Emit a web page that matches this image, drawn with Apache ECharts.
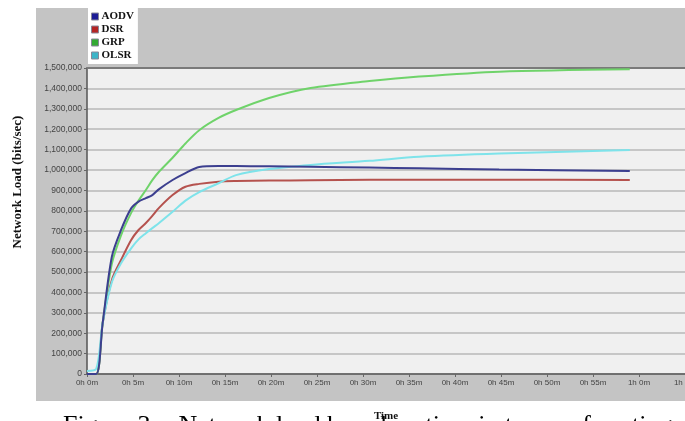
<!DOCTYPE html>
<html>
<head>
<meta charset="utf-8">
<script src="https://cdn.jsdelivr.net/npm/echarts@6/dist/echarts.min.js"></script>
<style>
  html, body { margin: 0; padding: 0; background: #fff; }
  #chart { width: 685px; height: 421px; }
</style>
</head>
<body>
<div id="chart"></div>
<script>
// sample times in minutes
const times = [0, 1, 1.7, 2.7, 3.7, 4.8, 5.6, 6.4, 7.1, 7.8, 9.3, 10.7, 12.2, 14.3, 16.2, 19.8, 24.3, 30.7, 36.1, 44.8, 59]

const aodv = [0, 0, 248000, 575000, 706000, 812000, 845000, 862000, 877000, 905000, 951000, 985000, 1015000, 1020000, 1020000, 1018000, 1016000, 1012000, 1008000, 1002000, 995000]
const dsr = [0, 0, 248000, 461000, 559000, 657000, 706000, 740000, 775000, 813000, 877000, 918000, 932000, 943000, 946000, 948000, 950000, 952000, 952000, 952000, 951000]
const grp = [0, 0, 250000, 540000, 680000, 790000, 850000, 902000, 950000, 990000, 1060000, 1130000, 1195000, 1255000, 1294000, 1353000, 1402000, 1436000, 1458000, 1482000, 1494000]
const olsr = [15000, 25000, 248000, 450000, 543000, 616000, 660000, 690000, 715000, 739000, 795000, 850000, 892000, 935000, 975000, 1005000, 1025000, 1045000, 1065000, 1081000, 1098000]

const seriesNames = ['AODV', 'DSR', 'GRP', 'OLSR']
const lineColors = ['#3c3f8f', '#b5524e', '#6fd36a', '#7ee3ea']
const boxColors = ['#1c1c96', '#b42424', '#33aa33', '#3cb4c8']

function pairs(vals) {
  return vals.map((v, i) => [times[i], v])
}

function timeLabel(m) {
  const h = Math.floor(m / 60)
  return h + 'h ' + (m - h * 60) + 'm'
}

const chart = echarts.init(document.getElementById('chart'))

chart.setOption({
  animation: false,
  backgroundColor: '#fff',
  graphic: [
    {
      type: 'rect',
      z: -10,
      shape: { x: 36, y: 8, width: 649, height: 393 },
      style: { fill: '#c4c4c4' }
    },
    {
      type: 'text',
      x: 18,
      y: 182,
      rotation: Math.PI / 2,
      style: {
        text: 'Network Load (bits/sec)',
        font: 'bold 13px "Liberation Serif"',
        fill: '#111',
        align: 'center',
        verticalAlign: 'middle'
      }
    },
    {
      type: 'text',
      left: 63,
      top: 413,
      style: {
        text: 'Figure 3 -  Network load based on time in terms of routing protocols',
        font: '26px "Liberation Serif"',
        fill: '#000'
      }
    }
  ],
  legend: {
    orient: 'vertical',
    left: 88,
    top: 8,
    icon: 'rect',
    itemWidth: 7,
    itemHeight: 7,
    itemGap: 2,
    padding: [3, 4, 3, 3],
    backgroundColor: '#fff',
    textStyle: { fontFamily: 'Liberation Serif', fontWeight: 'bold', fontSize: 11, lineHeight: 11, color: '#111', padding: [0, 0, 0, -2] },
    data: seriesNames.map((n, i) => ({
      name: n,
      itemStyle: { color: boxColors[i], borderColor: '#889', borderWidth: 1 }
    }))
  },
  grid: {
    left: 87,
    right: 0,
    top: 68,
    bottom: 47,
    outerBoundsMode: 'none',
    show: true,
    backgroundColor: '#f0f0f0',
    borderWidth: 0
  },
  xAxis: [
    {
      type: 'value',
      min: 0,
      max: 65,
      interval: 5,
      name: 'Time',
      nameLocation: 'middle',
      nameGap: 37,
      nameTextStyle: { fontFamily: 'Liberation Serif', fontWeight: 'bold', fontSize: 11, color: '#111' },
      axisLine: { lineStyle: { color: '#555', width: 1.5 } },
      axisTick: { show: true, length: 3, lineStyle: { color: '#666' } },
      axisLabel: {
        fontSize: 8,
        color: '#444',
        fontFamily: 'Liberation Sans',
        margin: 5,
        showMaxLabel: true,
        hideOverlap: false,
        formatter: v => timeLabel(v)
      },
      splitLine: { show: false }
    },
    {
      type: 'value',
      position: 'top',
      min: 0,
      max: 65,
      axisLine: { show: true, lineStyle: { color: '#7a7a7a', width: 2 } },
      axisTick: { show: false },
      axisLabel: { show: false },
      splitLine: { show: false }
    }
  ],
  yAxis: {
    type: 'value',
    min: 0,
    max: 1500000,
    interval: 100000,
    axisLine: { show: true, lineStyle: { color: '#555', width: 1.5 } },
    axisTick: { show: true, length: 3, lineStyle: { color: '#666' } },
    axisLabel: {
      fontSize: 8.5,
      color: '#444',
      fontFamily: 'Liberation Sans',
      margin: 5,
      formatter: v => v.toLocaleString('en-US')
    },
    splitLine: { show: true, lineStyle: { color: '#b9b9b9', width: 1.5 } }
  },
  series: [aodv, dsr, grp, olsr].map((vals, i) => ({
    name: seriesNames[i],
    type: 'line',
    smooth: 0.3,
    symbol: 'none',
    data: pairs(vals),
    lineStyle: { color: lineColors[i], width: 2 },
    itemStyle: { color: lineColors[i] },
    z: i === 0 ? 5 : 3
  }))
})
</script>
</body>
</html>
